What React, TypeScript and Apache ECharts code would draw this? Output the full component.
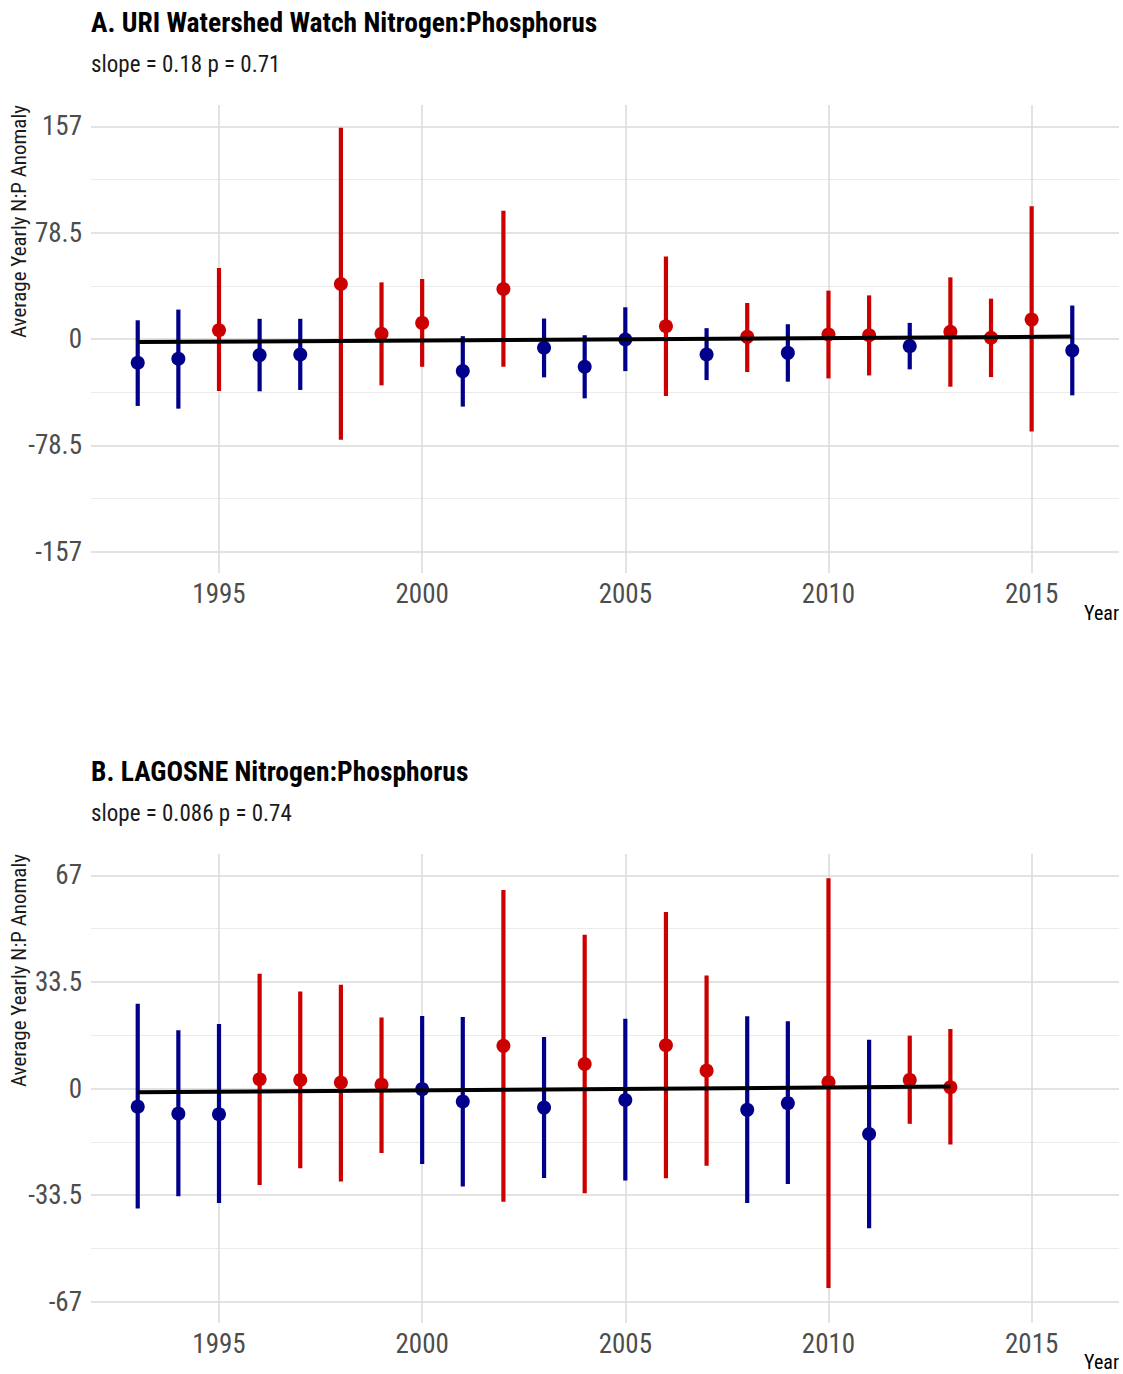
import React, { useEffect, useRef } from "react";
import * as echarts from "echarts";

// ---------- Data ----------
const yearsA = [1993, 1994, 1995, 1996, 1997, 1998, 1999, 2000, 2001, 2002, 2003, 2004, 2005, 2006, 2007, 2008, 2009, 2010, 2011, 2012, 2013, 2014, 2015, 2016];
const meanA = [-17.5, -14.6, 6.5, -11.9, -11.4, 40.6, 3.8, 11.9, -23.7, 36.9, -6.5, -20.5, -0.4, 9.4, -11.4, 1.6, -10.2, 3.3, 2.8, -5.3, 5.3, 0.9, 14.3, -8.5];
const lowA = [-49.4, -51.4, -38.4, -38.6, -37.6, -74.4, -34.2, -20.5, -49.9, -20.5, -28.3, -43.8, -23.7, -42.1, -30.3, -24.4, -31.5, -29.1, -26.9, -22.4, -35.2, -28.1, -68.3, -41.6];
const highA = [13.8, 21.7, 52.4, 14.9, 14.9, 155.9, 41.8, 44.3, 2.1, 94.6, 15.1, 2.8, 23.4, 60.9, 8.0, 26.6, 10.9, 35.7, 32.2, 11.9, 45.5, 29.8, 98.0, 24.7];
const trendA = [[1993, -2.3], [2016, 1.8]];

const yearsB = [1993, 1994, 1995, 1996, 1997, 1998, 1999, 2000, 2001, 2002, 2003, 2004, 2005, 2006, 2007, 2008, 2009, 2010, 2011, 2012, 2013];
const meanB = [-5.7, -7.9, -8.1, 2.9, 2.7, 1.9, 1.2, -0.2, -4.1, 13.4, -6.0, 7.7, -3.6, 13.6, 5.6, -6.7, -4.6, 2.0, -14.3, 2.7, 0.4];
const lowB = [-37.7, -33.9, -36.0, -30.3, -25.1, -29.2, -20.3, -23.7, -30.8, -35.6, -28.1, -32.9, -28.9, -28.2, -24.3, -36.0, -30.0, -62.7, -43.9, -11.1, -17.6];
const highB = [26.6, 18.3, 20.3, 36.1, 30.5, 32.6, 22.3, 22.8, 22.5, 62.4, 16.2, 48.3, 21.9, 55.5, 35.5, 22.7, 21.1, 66.1, 15.3, 16.6, 18.7];
const trendB = [[1993, -1.2], [2013, 0.6]];

const xTicks = [1995, 2000, 2005, 2010, 2015];
const yTicksA = [-157, -78.5, 0, 78.5, 157];
const yMinorA = [-117.75, -39.25, 39.25, 117.75];
const yTicksB = [-67, -33.5, 0, 33.5, 67];
const yMinorB = [-50.25, -16.75, 16.75, 50.25];

const titles = [
  { title: "A. URI Watershed Watch Nitrogen:Phosphorus", sub: "slope = 0.18 p = 0.71" },
  { title: "B. LAGOSNE Nitrogen:Phosphorus", sub: "slope = 0.086 p = 0.74" },
];
const yTitle = "Average Yearly N:P Anomaly";
const xTitle = "Year";

// ---------- Style ----------
const FONT = "'Roboto Condensed', 'Liberation Sans Narrow', 'DejaVu Sans Condensed', Roboto, sans-serif";
const RED = "#CC0000";
const BLUE = "#00008B";
const X_MIN = 1991.85;
const X_MAX = 2017.15;

function buildPanel(idx: number, years: number[], mean: number[], low: number[], high: number[], trend: number[][], ticks: number[], minor: number[]) {
  const lim = ticks[ticks.length - 1] * 1.1;
  const xAxis = {
    gridIndex: idx, type: "value", min: X_MIN, max: X_MAX,
    axisLine: { show: false }, axisTick: { show: false }, splitLine: { show: false },
    axisLabel: { customValues: xTicks, color: "#4D4D4D", fontSize: 27, fontFamily: FONT, margin: 7, formatter: (v: number) => String(v) },
  };
  const yAxis = {
    gridIndex: idx, type: "value", min: -lim, max: lim,
    axisLine: { show: false }, axisTick: { show: false }, splitLine: { show: false },
    axisLabel: { customValues: ticks, color: "#4D4D4D", fontSize: 27, fontFamily: FONT, margin: 9, formatter: (v: number) => String(v) },
  };
  const gridSeries = {
    type: "line", xAxisIndex: idx, yAxisIndex: idx, z: 0, silent: true,
    data: [[trend[0][0], 0]], symbol: "none", lineStyle: { opacity: 0 },
    markLine: {
      silent: true, symbol: "none", animation: false, label: { show: false }, z: 0,
      data: [
        ...minor.map((v) => ({ yAxis: v, lineStyle: { color: "#EBEBEB", width: 1, type: "solid" } })),
        ...ticks.map((v) => ({ yAxis: v, lineStyle: { color: "#DADADA", width: 1.5, type: "solid" } })),
        ...xTicks.map((v) => ({ xAxis: v, lineStyle: { color: "#DADADA", width: 1.5, type: "solid" } })),
      ],
    },
  };
  const errSeries = {
    type: "custom", xAxisIndex: idx, yAxisIndex: idx, z: 2,
    data: years.map((y, i) => ({ value: [y, low[i], high[i]], itemStyle: { color: mean[i] > 0 ? RED : BLUE } })),
    renderItem: (params: any, api: any) => {
      const x = api.value(0);
      const lo = api.coord([x, api.value(1)]);
      const hi = api.coord([x, api.value(2)]);
      return { type: "line", shape: { x1: lo[0], y1: lo[1], x2: hi[0], y2: hi[1] }, style: { stroke: api.visual("color"), lineWidth: 4.2, lineCap: "butt" } };
    },
  };
  const ptSeries = {
    type: "scatter", xAxisIndex: idx, yAxisIndex: idx, z: 3, symbolSize: 14,
    data: years.map((y, i) => ({ value: [y, mean[i]], itemStyle: { color: mean[i] > 0 ? RED : BLUE, opacity: 1 } })),
  };
  const trendSeries = {
    type: "line", xAxisIndex: idx, yAxisIndex: idx, z: 4, symbol: "none",
    data: trend, lineStyle: { color: "#000000", width: 4 },
  };
  return { xAxis, yAxis, series: [gridSeries, errSeries, ptSeries, trendSeries] };
}

export default function App() {
  const ref = useRef<HTMLDivElement>(null);
  useEffect(() => {
    document.body.style.margin = "0";
    const chart = echarts.init(ref.current!, null, { renderer: "svg" });
    const pA = buildPanel(0, yearsA, meanA, lowA, highA, trendA, yTicksA, yMinorA);
    const pB = buildPanel(1, yearsB, meanB, lowB, highB, trendB, yTicksB, yMinorB);
    const panelTops = [105, 854];
    const graphics: any[] = [];
    const offsets = [0, 749];
    titles.forEach((t, i) => {
      graphics.push({ type: "text", x: 91, y: 22 + offsets[i], style: { text: t.title, font: `bold 27.5px ${FONT}`, fill: "#000", textVerticalAlign: "middle" } });
      graphics.push({ type: "text", x: 91, y: 64 + offsets[i], style: { text: t.sub, font: `23px ${FONT}`, fill: "#1A1A1A", textVerticalAlign: "middle" } });
      graphics.push({ type: "text", x: 19, y: panelTops[i], rotation: Math.PI / 2, style: { text: yTitle, font: `21px ${FONT}`, fill: "#1A1A1A", textAlign: "right", textVerticalAlign: "middle" } });
      graphics.push({ type: "text", x: 1119, y: 613 + offsets[i], style: { text: xTitle, font: `20px ${FONT}`, fill: "#000", textAlign: "right", textVerticalAlign: "middle" } });
    });
    chart.setOption({
      animation: false,
      backgroundColor: "#FFFFFF",
      grid: [
        { left: 91, top: 105, width: 1028, height: 468 },
        { left: 91, top: 854, width: 1028, height: 469 },
      ],
      xAxis: [pA.xAxis, pB.xAxis],
      yAxis: [pA.yAxis, pB.yAxis],
      series: [...pA.series, ...pB.series],
      graphic: graphics,
    });
    return () => chart.dispose();
  }, []);
  return <div ref={ref} style={{ width: 1123, height: 1374 }} />;
}
